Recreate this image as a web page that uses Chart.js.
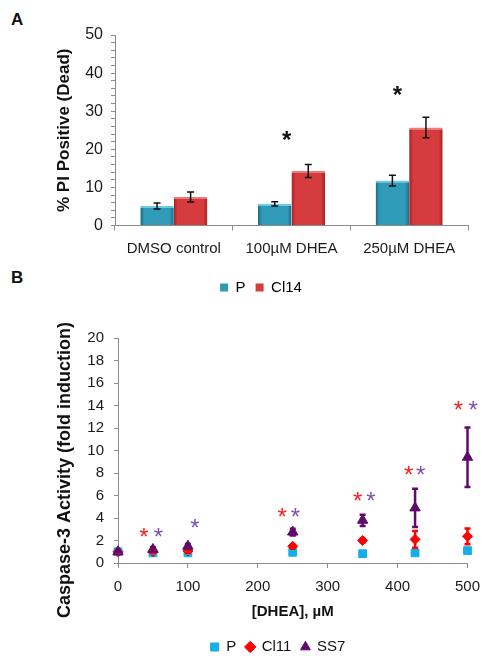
<!DOCTYPE html>
<html>
<head>
<meta charset="utf-8">
<script src="https://cdn.jsdelivr.net/npm/chart.js@4"></script>
<style>
  body{margin:0;background:#fff;width:490px;height:665px;position:relative;overflow:hidden;font-family:'Liberation Sans',Arial,sans-serif;}
  canvas{position:absolute;left:0;}
  #ca{top:0;}
  #cb{top:300px;}
  .panel{position:absolute;left:11px;font-weight:bold;font-size:17px;color:#111;}
</style>
</head>
<body>
<div class="panel" style="top:10px">A</div>
<div class="panel" style="top:268px">B</div>
<canvas id="ca" width="490" height="310"></canvas>
<canvas id="cb" width="490" height="365"></canvas>
<script>
// panel A - % PI positive
const catsA = ['DMSO control', '100µM DHEA', '250µM DHEA'];
const pA = [5.1, 5.7, 11.8];
const pAerr = [0.8, 0.55, 1.4];
const cl14A = [7.5, 14.3, 25.7];
const cl14Aerr = [1.3, 1.7, 2.7];
const starAx = [0.96, 1.9];     // category position of the * marks
const starAy = [23.7, 35.5];

// panel B - caspase-3 activity
const doseB = [0, 50, 100, 250, 350, 425, 500];
const pB = [1.0, 0.9, 0.9, 0.95, 0.83, 0.9, 1.1];
const pBerr = [0.05, 0.05, 0.05, 0.1, 0.05, 0.1, 0.2];
const cl11B = [1.0, 1.0, 1.07, 1.48, 2.0, 2.1, 2.37];
const cl11Berr = [0.05, 0.1, 0.15, 0.15, 0.15, 0.75, 0.7];
const ss7B = [1.0, 1.2, 1.5, 2.75, 3.8, 4.9, 9.4];
const ss7Berr = [0.05, 0.2, 0.2, 0.3, 0.5, 1.7, 2.65];
const starRedX = [37, 235, 343, 416, 487];
const starRedY = [2.75, 4.5, 5.9, 8.2, 14.0];
const starPurX = [58, 110, 254, 362, 433, 508];
const starPurY = [2.75, 3.55, 4.5, 5.9, 8.2, 14.0];

const FONT = "'Liberation Sans', Arial, sans-serif";
const AXIS = '#8c8c8c';
Chart.defaults.font.family = FONT;
Chart.defaults.color = '#1a1a1a';
Chart.defaults.animation = false;

function barFill(edge, mid){
  return ctx => {
    const ch = ctx.chart, sx = ch.scales.x;
    if(!sx || ctx.dataIndex === undefined) return mid;
    const bw = sx.width / catsA.length * 0.57 / 2;
    const cx = sx.getPixelForValue(ctx.dataIndex) + (ctx.datasetIndex - 0.5) * bw;
    const g = ch.ctx.createLinearGradient(cx - bw/2, 0, cx + bw/2, 0);
    g.addColorStop(0, edge); g.addColorStop(0.12, mid);
    g.addColorStop(0.88, mid); g.addColorStop(1, edge);
    return g;
  };
}

function star(c, px, py, color, weight){
  c.font = weight + ' 24px ' + FONT;
  c.fillStyle = color;
  c.textAlign = 'center';
  c.textBaseline = 'alphabetic';
  const m = c.measureText('*');
  c.fillText('*', px, py + (m.actualBoundingBoxAscent - m.actualBoundingBoxDescent) / 2);
}

function errBar(c, x, top, bot, cap, color, w){
  c.strokeStyle = color; c.lineWidth = w;
  c.beginPath();
  c.moveTo(x, top); c.lineTo(x, bot);
  c.moveTo(x - cap, top); c.lineTo(x + cap, top);
  c.moveTo(x - cap, bot); c.lineTo(x + cap, bot);
  c.stroke();
}

const marksA = {
  id: 'marksA',
  afterDatasetsDraw(chart){
    const c = chart.ctx, y = chart.scales.y, x = chart.scales.x;
    c.save();
    [pAerr, cl14Aerr].forEach((errs, di) => {
      const vals = chart.data.datasets[di].data;
      chart.getDatasetMeta(di).data.forEach((bar, i) => {
        errBar(c, bar.x, y.getPixelForValue(vals[i] + errs[i]), y.getPixelForValue(vals[i] - errs[i]), 3.5, '#111', 1.5);
      });
    });
    starAx.forEach((v, i) => star(c, x.getPixelForValue(v), y.getPixelForValue(starAy[i]), '#111', 'bold'));
    c.restore();
  }
};

const marksB = {
  id: 'marksB',
  afterDatasetsDraw(chart){
    const c = chart.ctx, y = chart.scales.y, x = chart.scales.x;
    c.save();
    [pBerr, cl11Berr, ss7Berr].forEach((errs, di) => {
      const ds = chart.data.datasets[di];
      ds.data.forEach((p, i) => {
        errBar(c, x.getPixelForValue(p.x), y.getPixelForValue(p.y + errs[i]), y.getPixelForValue(p.y - errs[i]), 3, ds.borderColor, 2.5);
      });
    });
    starRedX.forEach((v, i) => star(c, x.getPixelForValue(v), y.getPixelForValue(starRedY[i]), '#ff1a1a', 'normal'));
    starPurX.forEach((v, i) => star(c, x.getPixelForValue(v), y.getPixelForValue(starPurY[i]), '#7d4fae', 'normal'));
    // y title sits a bit below the plot centre in the original
    c.translate(65, 170);
    c.rotate(-Math.PI / 2);
    c.font = 'bold 18px ' + FONT;
    c.fillStyle = '#111';
    c.textAlign = 'center';
    c.textBaseline = 'middle';
    c.fillText('Caspase-3 Activity (fold induction)', 0, 0);
    c.restore();
  }
};

const legColsA = ['#2f9bb8', '#d63b3d'];

new Chart(document.getElementById('ca'), {
  type: 'bar',
  data: {
    labels: catsA,
    datasets: [
      {label: 'P', data: pA, backgroundColor: barFill('#1a6a80', '#2f9bb8'), borderColor: '#6ccbe2', borderWidth: {top: 2, left: 0, right: 0, bottom: 0}, categoryPercentage: 0.57, barPercentage: 1},
      {label: 'Cl14', data: cl14A, backgroundColor: barFill('#a32222', '#d63b3d'), borderColor: '#ee7a7a', borderWidth: {top: 2, left: 0, right: 0, bottom: 0}, categoryPercentage: 0.57, barPercentage: 1}
    ]
  },
  options: {
    responsive: false,
    layout: {padding: {left: 54, right: 22, top: 35, bottom: 5}},
    plugins: {
      tooltip: {enabled: false},
      legend: {
        position: 'bottom',
        labels: {
          boxWidth: 8, boxHeight: 8, padding: 10, color: '#111', font: {size: 15},
          generateLabels: ch => ch.data.datasets.map((d, i) => ({text: d.label, fillStyle: legColsA[i], strokeStyle: legColsA[i], lineWidth: 0, hidden: false, datasetIndex: i}))
        }
      }
    },
    scales: {
      x: {
        grid: {offset: true, drawOnChartArea: false, tickLength: 5, color: AXIS},
        border: {color: AXIS},
        ticks: {font: {size: 15}, padding: 9, maxRotation: 0, autoSkip: false},
        afterFit: s => { s.height = 44.5; }
      },
      y: {
        min: 0, max: 50,
        ticks: {stepSize: 2, autoSkip: false, font: {size: 16}, padding: 8, callback: v => v % 10 === 0 ? v : ''},
        grid: {drawOnChartArea: false, tickLength: 4, color: AXIS},
        border: {color: AXIS},
        title: {display: true, text: '% PI Positive (Dead)', font: {size: 17, weight: 'bold'}, padding: 0, color: '#111'},
        afterFit: s => { s.width = 61; }
      }
    }
  },
  plugins: [marksA]
});

new Chart(document.getElementById('cb'), {
  type: 'scatter',
  data: {
    datasets: [
      {label: 'P', data: doseB.map((x, i) => ({x, y: pB[i]})), pointStyle: 'rect', pointRadius: 5.5, backgroundColor: '#14aee8', borderColor: '#14aee8', order: 2, clip: false},
      {label: 'Cl11', data: doseB.map((x, i) => ({x, y: cl11B[i]})), pointStyle: 'rectRot', pointRadius: 5, backgroundColor: '#ff0000', borderColor: '#ff0000', order: 1, clip: false},
      {label: 'SS7', data: doseB.map((x, i) => ({x, y: ss7B[i]})), pointStyle: 'triangle', pointRadius: 6, backgroundColor: '#5e0b6b', borderColor: '#5e0b6b', order: 0, clip: false}
    ]
  },
  options: {
    responsive: false,
    layout: {padding: {left: 84, right: 18, top: 38, bottom: 0.5}},
    plugins: {
      tooltip: {enabled: false},
      legend: {
        position: 'bottom',
        labels: {usePointStyle: true, boxWidth: 8, boxHeight: 8, padding: 10, color: '#111', font: {size: 15}, sort: (a, b) => a.datasetIndex - b.datasetIndex}
      }
    },
    scales: {
      x: {
        type: 'linear', min: 0, max: 500,
        ticks: {stepSize: 100, font: {size: 15}, padding: 10},
        grid: {drawOnChartArea: false, tickLength: 5, color: AXIS},
        border: {color: AXIS},
        title: {display: true, text: '[DHEA], µM', font: {size: 15, weight: 'bold'}, padding: {top: 0, bottom: 8.5}, color: '#111'},
        afterFit: s => { s.height = 66.5; }
      },
      y: {
        min: 0, max: 20,
        ticks: {stepSize: 2, font: {size: 15}, padding: 10},
        grid: {drawOnChartArea: false, tickLength: 4, color: AXIS},
        border: {color: AXIS},
        afterFit: s => { s.width = 34; }
      }
    }
  },
  plugins: [marksB]
});
</script>
</body>
</html>
